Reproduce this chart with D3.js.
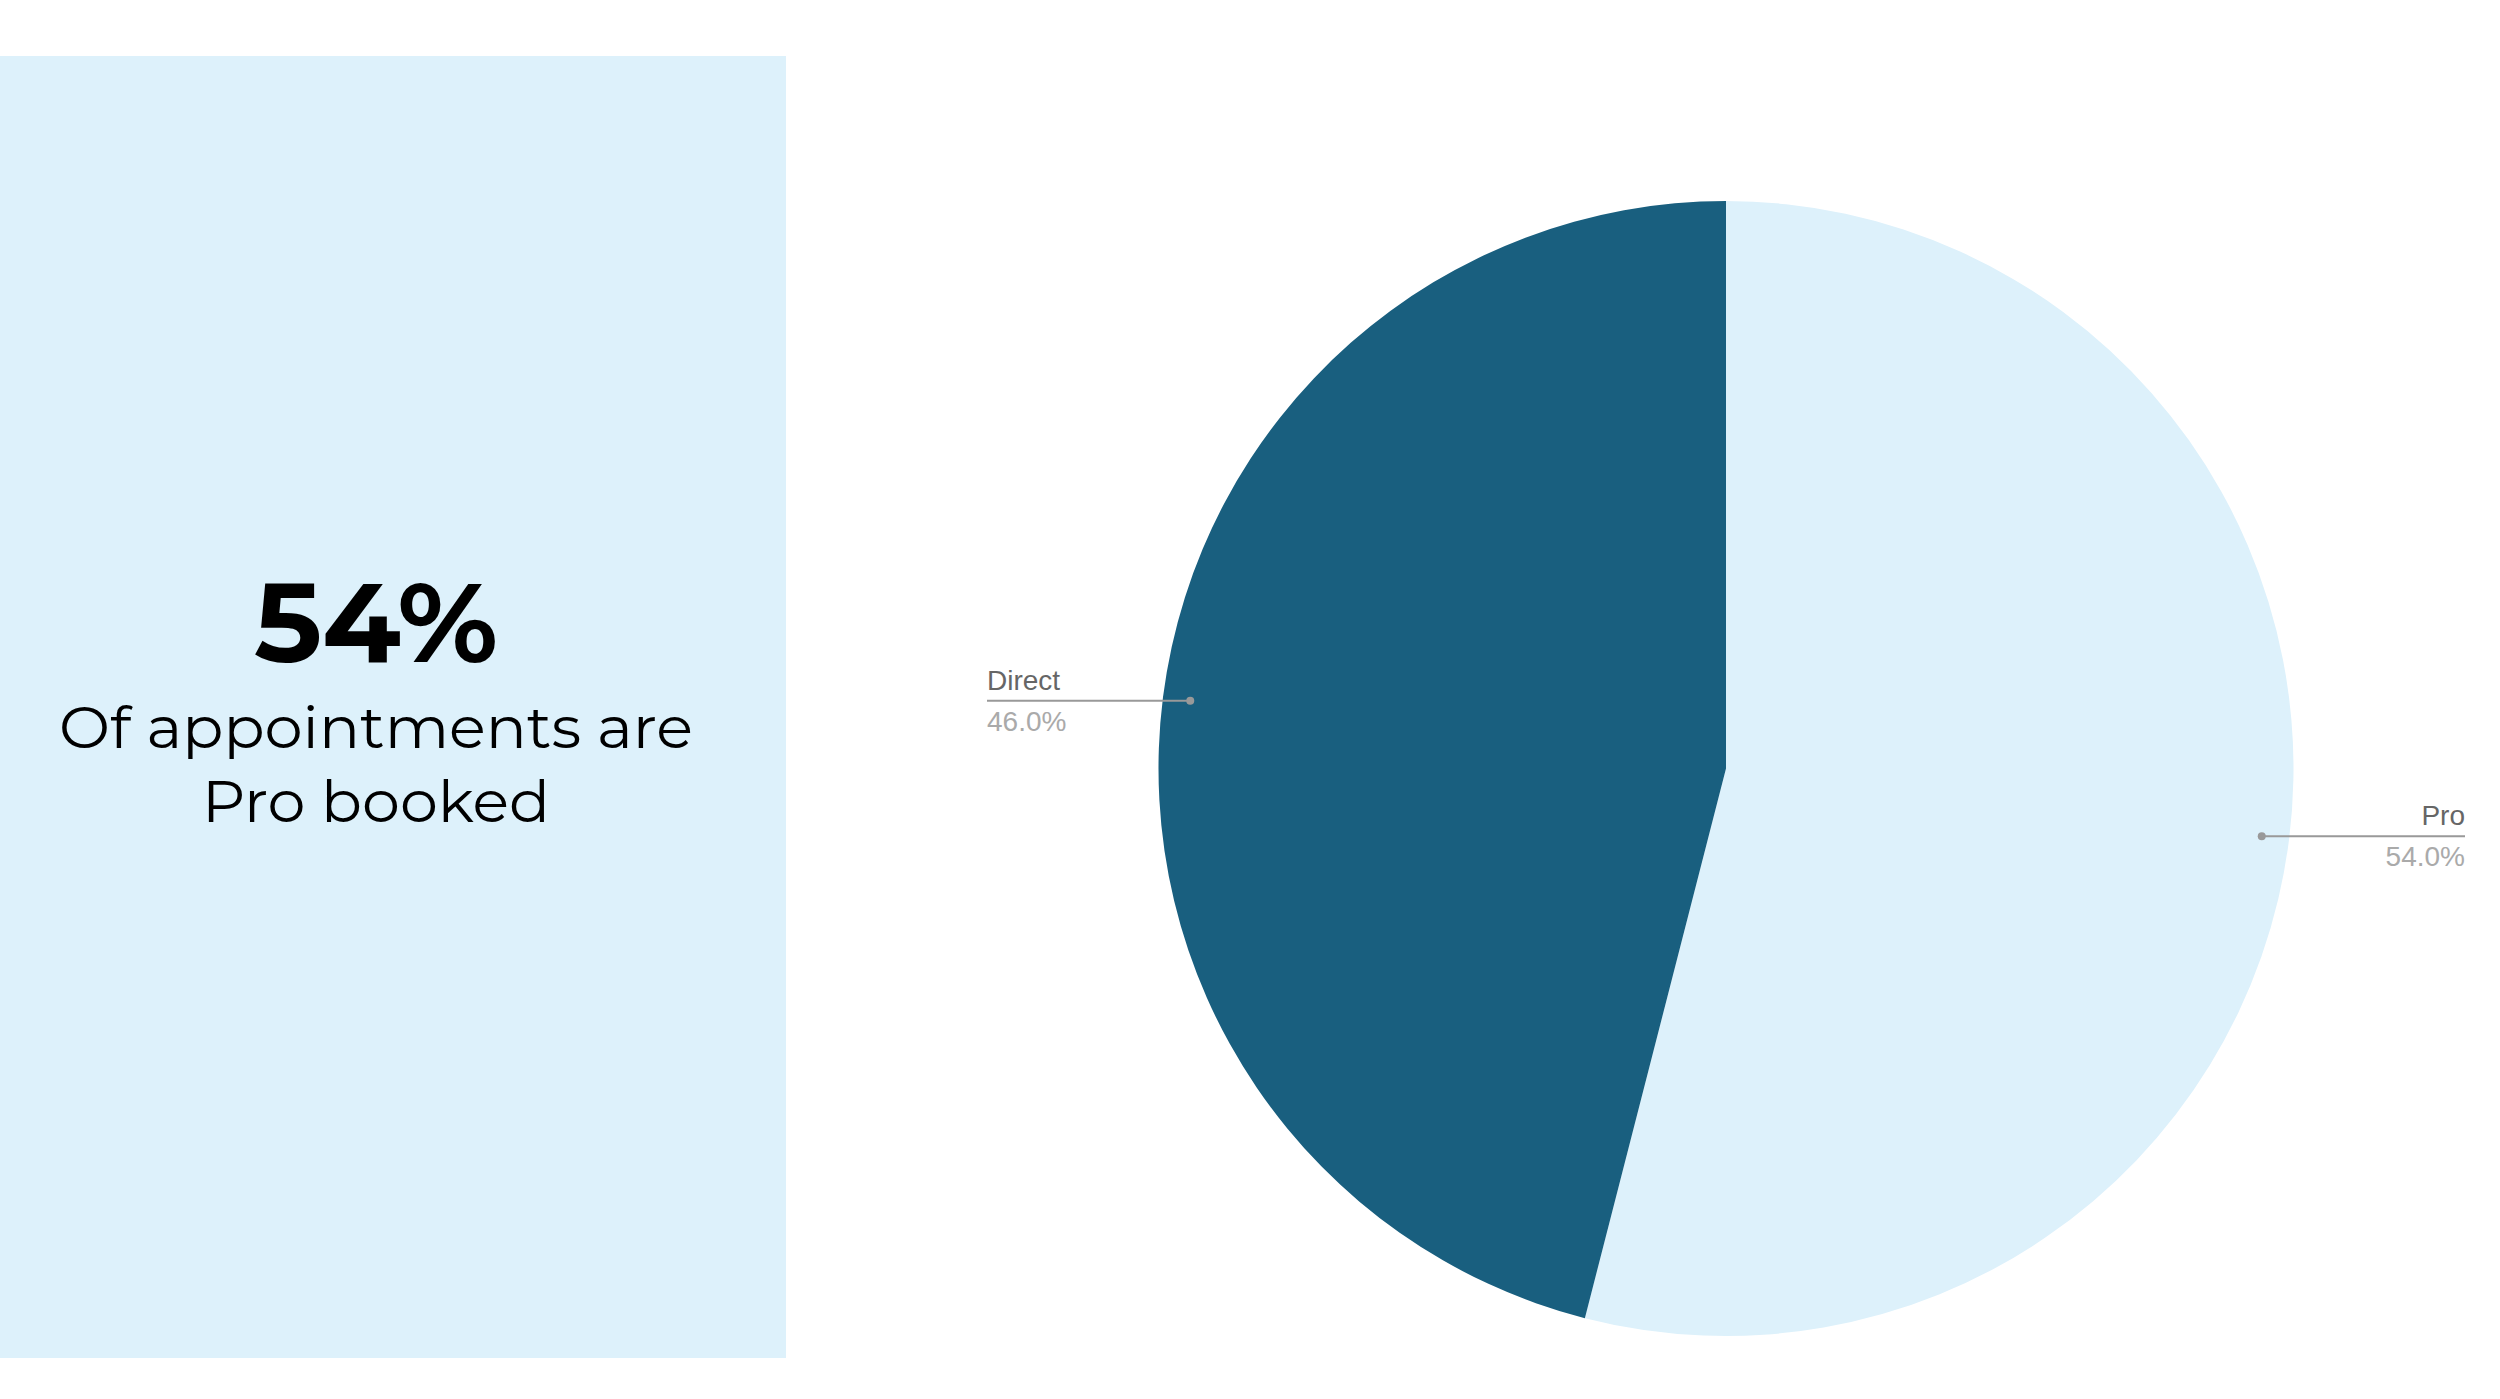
<!DOCTYPE html>
<html><head><meta charset="utf-8">
<script src="https://cdn.jsdelivr.net/npm/d3@7"></script>
<style>html,body{margin:0;padding:0;background:#fff;overflow:hidden}</style>
</head><body>
<svg id="chart" width="2500" height="1399"></svg>
<script>
const categories = ["Pro", "Direct"];
const values = [54, 46];
const valueLabels = ["54.0%", "46.0%"];
const colors = ["#ddf1fb", "#195f7f"];
const headline = "54%";
const captionLines = ["Of appointments are", "Pro booked"];

const svg = d3.select("#chart");
svg.append("rect").attr("x",0).attr("y",0).attr("width",2500).attr("height",1399).attr("fill","#fff");

// left panel
svg.append("rect").attr("x",0).attr("y",56).attr("width",786).attr("height",1302).attr("fill","#ddf1fb");
const tx = 376;
svg.append("text").attr("x",tx).attr("y",662).attr("text-anchor","middle")
  .attr("font-family","Montserrat, Lato, sans-serif").attr("font-weight",700).attr("font-size",112)
  .attr("textLength",244).attr("lengthAdjust","spacingAndGlyphs").attr("fill","#000").text(headline);
const capW = [634, 348];
captionLines.forEach((t,i)=>{
  svg.append("text").attr("x",tx).attr("y",748+74*i).attr("text-anchor","middle")
    .attr("font-family","Montserrat, Lato, sans-serif").attr("font-size",58)
    .attr("textLength",capW[i]).attr("lengthAdjust","spacingAndGlyphs").attr("fill","#000").text(t);
});

// pie
const cx = 1726, cy = 768.5, r = 567.5;
const data = categories.map((c,i)=>({cat:c, value:values[i], label:valueLabels[i], color:colors[i]}));
const pie = d3.pie().sort(null).value(d=>d.value);
const arcs = pie(data);
const arc = d3.arc().innerRadius(0).outerRadius(r);
const g = svg.append("g").attr("transform",`translate(${cx},${cy})`);
g.selectAll("path").data(arcs).join("path").attr("d",arc).attr("fill",d=>d.data.color);

// labels
const dotR = 540, labelX = 739;
arcs.forEach(a=>{
  const mid = (a.startAngle+a.endAngle)/2;
  const px = dotR*Math.sin(mid), py = -dotR*Math.cos(mid);
  const right = px > 0;
  const ex = right ? labelX : -labelX;
  g.append("line").attr("x1",px).attr("y1",py).attr("x2",ex).attr("y2",py)
    .attr("stroke","#999").attr("stroke-width",2);
  g.append("circle").attr("cx",px).attr("cy",py).attr("r",4).attr("fill","#999");
  const anchor = right ? "end" : "start";
  g.append("text").attr("x",ex).attr("y",py-11).attr("text-anchor",anchor)
    .attr("font-family","Liberation Sans, Arial, sans-serif").attr("font-size",28).attr("fill","#666").text(a.data.cat);
  g.append("text").attr("x",ex).attr("y",py+30).attr("text-anchor",anchor)
    .attr("font-family","Liberation Sans, Arial, sans-serif").attr("font-size",28).attr("fill","#aaa").text(a.data.label);
});
</script>
</body></html>
